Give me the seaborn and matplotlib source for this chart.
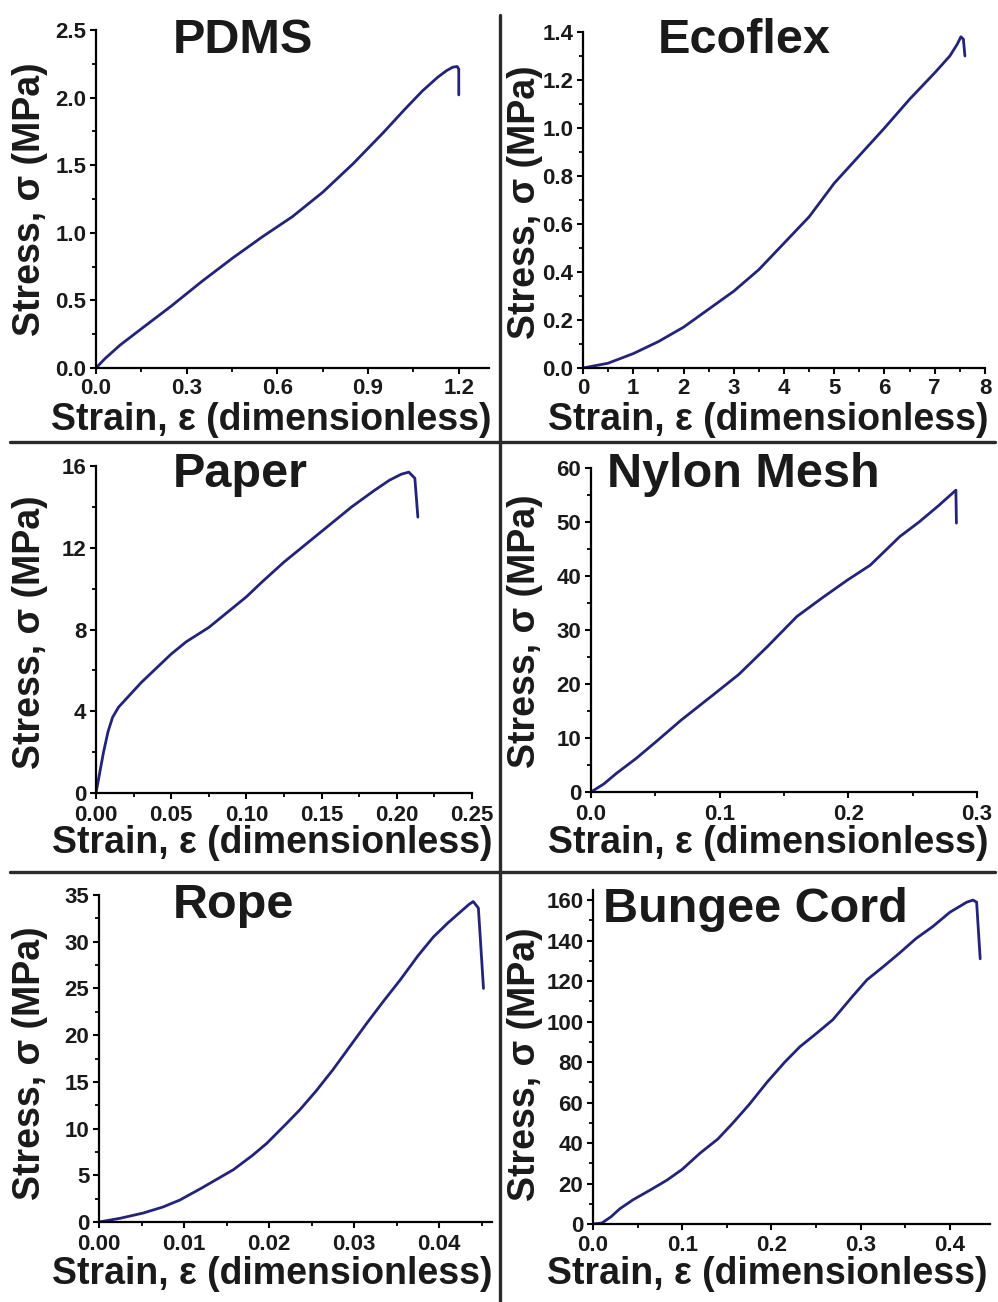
import numpy as np
import pandas as pd
import matplotlib
matplotlib.use("Agg")
import matplotlib.pyplot as plt
from matplotlib.ticker import FixedLocator, MultipleLocator
from matplotlib.lines import Line2D
import seaborn as sns

# ---------------- data ----------------
titles = ["PDMS", "Ecoflex", "Paper", "Nylon Mesh", "Rope", "Bungee Cord"]

pdms_strain = [0, 0.03, 0.08, 0.15, 0.25, 0.35, 0.45, 0.55, 0.65, 0.75, 0.85, 0.95, 1.02,
               1.08, 1.13, 1.16, 1.18, 1.195, 1.20, 1.20]
pdms_stress = [0, 0.07, 0.17, 0.29, 0.46, 0.64, 0.81, 0.97, 1.12, 1.30, 1.51, 1.74, 1.91,
               2.05, 2.15, 2.20, 2.225, 2.23, 2.21, 2.02]

ecoflex_strain = [0, 0.5, 1.0, 1.5, 2.0, 2.5, 3.0, 3.5, 4.0, 4.5, 5.0, 5.5, 6.0, 6.5, 7.0,
                  7.3, 7.45, 7.52, 7.57, 7.60]
ecoflex_stress = [0, 0.02, 0.06, 0.11, 0.17, 0.245, 0.32, 0.41, 0.52, 0.63, 0.77, 0.885,
                  1.00, 1.12, 1.23, 1.30, 1.35, 1.38, 1.37, 1.30]

paper_strain = [0, 0.002, 0.005, 0.008, 0.011, 0.015, 0.02, 0.03, 0.04, 0.05, 0.06, 0.075,
                0.09, 0.10, 0.11, 0.125, 0.14, 0.155, 0.17, 0.185, 0.195, 0.203, 0.208,
                0.212, 0.214]
paper_stress = [0, 0.8, 2.0, 3.0, 3.7, 4.2, 4.6, 5.4, 6.1, 6.8, 7.4, 8.1, 9.0, 9.6, 10.3,
                11.3, 12.2, 13.1, 14.0, 14.8, 15.3, 15.6, 15.7, 15.4, 13.5]

nylon_strain = [0, 0.01, 0.02, 0.035, 0.05, 0.07, 0.095, 0.115, 0.137, 0.16, 0.18, 0.199,
                0.217, 0.24, 0.255, 0.27, 0.2836, 0.284]
nylon_stress = [0, 1.5, 3.5, 6.2, 9.2, 13.3, 18.0, 21.8, 26.9, 32.5, 36.0, 39.2, 42.0, 47.3,
                50.0, 53.0, 55.9, 49.8]

rope_strain = [0, 0.0025, 0.0052, 0.0075, 0.0095, 0.012, 0.0158, 0.018, 0.0197, 0.022,
               0.0236, 0.0255, 0.0275, 0.0295, 0.0315, 0.0335, 0.0354, 0.0375, 0.0393,
               0.041, 0.0425, 0.0435, 0.0440, 0.0446, 0.0452]
rope_stress = [0, 0.4, 0.96, 1.6, 2.35, 3.6, 5.6, 7.1, 8.4, 10.5, 12.0, 14.0, 16.3, 18.8,
               21.3, 23.7, 25.9, 28.5, 30.5, 32.0, 33.2, 34.0, 34.3, 33.6, 25.0]

bungee_strain = [0, 0.01, 0.02, 0.03, 0.045, 0.065, 0.083, 0.10, 0.12, 0.14, 0.157, 0.175,
                 0.195, 0.215, 0.232, 0.25, 0.269, 0.29, 0.307, 0.325, 0.344, 0.362, 0.381,
                 0.40, 0.419, 0.426, 0.430, 0.434]
bungee_stress = [0, 0.5, 3.5, 7.5, 12, 17, 21.7, 27, 35, 42, 50, 59, 70, 80, 87.6, 94, 101,
                 112, 120.6, 127, 134, 141, 147, 154, 159, 160, 159, 131]

# tick values
pdms_xticks = [0.0, 0.3, 0.6, 0.9, 1.2]
pdms_yticks = [0.0, 0.5, 1.0, 1.5, 2.0, 2.5]
ecoflex_xticks = [0, 1, 2, 3, 4, 5, 6, 7, 8]
ecoflex_yticks = [0.0, 0.2, 0.4, 0.6, 0.8, 1.0, 1.2, 1.4]
paper_xticks = [0.00, 0.05, 0.10, 0.15, 0.20, 0.25]
paper_yticks = [0, 4, 8, 12, 16]
nylon_xticks = [0.0, 0.1, 0.2, 0.3]
nylon_yticks = [0, 10, 20, 30, 40, 50, 60]
rope_xticks = [0.00, 0.01, 0.02, 0.03, 0.04]
rope_yticks = [0, 5, 10, 15, 20, 25, 30, 35]
bungee_xticks = [0.0, 0.1, 0.2, 0.3, 0.4]
bungee_yticks = [0, 20, 40, 60, 80, 100, 120, 140, 160]

xlabel_text = "Strain, \u03b5 (dimensionless)"
ylabel_text = "Stress, \u03c3 (MPa)"

# ---------------- styling ----------------
sns.set_theme(style="ticks")
plt.rcParams["font.family"] = ["Liberation Sans", "DejaVu Sans"]
plt.rcParams["font.weight"] = "bold"

W, H = 998, 1302
fig = plt.figure(figsize=(W / 100, H / 100), dpi=100)
fig.patch.set_facecolor("white")

LINE_COLOR = "#23237a"
TEXT_COLOR = "#1a1a1a"

def fx(px):
    return px / W

def fy(py):
    return 1 - py / H

panels = [
    dict(x=pdms_strain, y=pdms_stress, xt=pdms_xticks, yt=pdms_yticks,
         xfmt="{:.1f}", yfmt="{:.1f}", xmin=0.15, ymin=0.25,
         xlim=(0, 1.3), ylim=(0, 2.5), box=(96, 30, 489, 368), xpad=2.5,
         title=(173, 53), xl=(271, 430), yl=(30, 199)),
    dict(x=ecoflex_strain, y=ecoflex_stress, xt=ecoflex_xticks, yt=ecoflex_yticks,
         xfmt="{:.0f}", yfmt="{:.1f}", xmin=0.5, ymin=0.1,
         xlim=(0, 8), ylim=(0, 1.4), box=(583, 32, 985, 368), xpad=2.5,
         title=(658, 53), xl=(768, 430), yl=(525, 202)),
    dict(x=paper_strain, y=paper_stress, xt=paper_xticks, yt=paper_yticks,
         xfmt="{:.2f}", yfmt="{:.0f}", xmin=0.025, ymin=2,
         xlim=(0, 0.25), ylim=(0, 16), box=(96, 466, 472, 793), xpad=4.0,
         title=(173, 487), xl=(272, 853), yl=(30, 632)),
    dict(x=nylon_strain, y=nylon_stress, xt=nylon_xticks, yt=nylon_yticks,
         xfmt="{:.1f}", yfmt="{:.0f}", xmin=0.05, ymin=5,
         xlim=(0, 0.3), ylim=(0, 60), box=(591, 468, 977, 792), xpad=4.0,
         title=(607, 487), xl=(768, 853), yl=(525, 631)),
    dict(x=rope_strain, y=rope_stress, xt=rope_xticks, yt=rope_yticks,
         xfmt="{:.2f}", yfmt="{:.0f}", xmin=0.005, ymin=2.5,
         xlim=(0, 0.0462), ylim=(0, 35), box=(99, 895, 492, 1222), xpad=4.0,
         title=(173, 918), xl=(272, 1284), yl=(30, 1063)),
    dict(x=bungee_strain, y=bungee_stress, xt=bungee_xticks, yt=bungee_yticks,
         xfmt="{:.1f}", yfmt="{:.0f}", xmin=0.05, ymin=10,
         xlim=(0, 0.445), ylim=(0, 165), box=(593, 890, 990, 1224), xpad=3.5,
         title=(603, 922), xl=(767, 1284), yl=(525, 1064)),
]

for title, p in zip(titles, panels):
    l, t, r, b = p["box"]
    ax = fig.add_axes([fx(l), fy(b), (r - l) / W, (b - t) / H])
    df = pd.DataFrame({"strain": p["x"], "stress": p["y"]})
    sns.lineplot(data=df, x="strain", y="stress", ax=ax, sort=False,
                 color=LINE_COLOR, linewidth=2.0, estimator=None)
    ax.set_xlim(*p["xlim"])
    ax.set_ylim(*p["ylim"])
    ax.set_xlabel("")
    ax.set_ylabel("")
    ax.xaxis.set_major_locator(FixedLocator(p["xt"]))
    ax.yaxis.set_major_locator(FixedLocator(p["yt"]))
    ax.set_xticklabels([p["xfmt"].format(v) for v in p["xt"]])
    ax.set_yticklabels([p["yfmt"].format(v) for v in p["yt"]])
    ax.xaxis.set_minor_locator(MultipleLocator(p["xmin"]))
    ax.yaxis.set_minor_locator(MultipleLocator(p["ymin"]))
    for s in ["top", "right"]:
        ax.spines[s].set_visible(False)
    for s in ["left", "bottom"]:
        ax.spines[s].set_linewidth(1.6)
        ax.spines[s].set_color("black")
    ax.tick_params(which="major", direction="out", length=4.5, width=1.5,
                   labelsize=16, colors="black", labelcolor=TEXT_COLOR)
    ax.tick_params(axis="x", which="major", pad=p["xpad"])
    ax.tick_params(axis="y", which="major", pad=2.5)
    ax.tick_params(which="minor", direction="out", length=3, width=1.3, colors="black")
    for lab in ax.get_xticklabels() + ax.get_yticklabels():
        lab.set_fontweight("bold")
    ax.set_facecolor("none")
    ax.patch.set_alpha(0)

    # title
    fig.text(fx(p["title"][0]), fy(p["title"][1]), title, ha="left", va="baseline",
             fontsize=35, fontweight="bold", color=TEXT_COLOR)
    # axis labels
    fig.text(fx(p["xl"][0]), fy(p["xl"][1]), xlabel_text, ha="center", va="baseline",
             fontsize=27, fontweight="bold", color=TEXT_COLOR)
    fig.text(fx(p["yl"][0]), fy(p["yl"][1]), ylabel_text, ha="center", va="center",
             rotation=90, fontsize=27, fontweight="bold", color=TEXT_COLOR)

# divider lines
div_color = "#2b2b2b"
fig.add_artist(Line2D([fx(500), fx(500)], [fy(15), fy(1302)], color=div_color,
                      linewidth=2.4, transform=fig.transFigure))
for yy in (442, 872):
    fig.add_artist(Line2D([fx(10), fx(995)], [fy(yy), fy(yy)], color=div_color,
                          linewidth=2.4, transform=fig.transFigure))

fig.savefig("out.png", dpi=100, facecolor="white")
